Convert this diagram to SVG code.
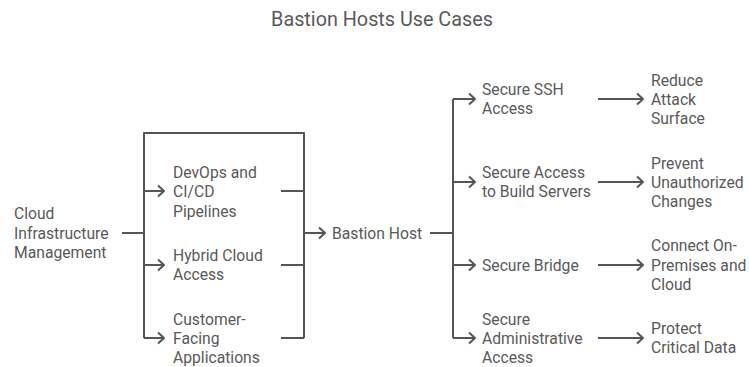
<svg xmlns="http://www.w3.org/2000/svg" width="749" height="367" viewBox="0 0 749 367">
<style>
text{font-family:Roboto,"Liberation Sans",sans-serif;fill:#595959;font-size:15.7px}
.title{font-size:19.8px;text-anchor:middle}
.ln{fill:none;stroke:#555;stroke-width:2;stroke-linejoin:round}
.ar{fill:none;stroke:#555;stroke-width:2;stroke-linejoin:round;marker-end:url(#ah)}
</style>
<defs>
<marker id="ah" markerUnits="userSpaceOnUse" markerWidth="12" markerHeight="14" refX="8" refY="7" orient="auto">
<path d="M2,1.5 L8,7 L2,12.5" fill="none" stroke="#555" stroke-width="2" stroke-linejoin="round"/>
</marker>
</defs>
<rect width="749" height="367" fill="#fff"/>
<text class="title" x="382" y="26">Bastion Hosts Use Cases</text>
<g id="connectors">
<path class="ln" d="M122,233 H144"/>
<path class="ln" d="M144,338 V133 H304 V338"/>
<path class="ar" d="M144,191 H164"/>
<path class="ar" d="M144,265 H164"/>
<path class="ar" d="M144,338 H164"/>
<path class="ln" d="M281,191 H304"/>
<path class="ln" d="M281,265 H304"/>
<path class="ln" d="M281,338 H304"/>
<path class="ar" d="M304,233 H325"/>
<path class="ln" d="M430,233 H453"/>
<path class="ln" d="M453,99 V338"/>
<path class="ar" d="M453,99 H475"/>
<path class="ar" d="M453,182 H475"/>
<path class="ar" d="M453,265 H475"/>
<path class="ar" d="M453,338 H475"/>
<path class="ar" d="M598,99 H643"/>
<path class="ar" d="M598,182 H643"/>
<path class="ar" d="M598,265 H643"/>
<path class="ar" d="M598,338 H643"/>
</g>
<g id="cloud"><text x="14" y="219">Cloud</text><text x="14" y="238.5">Infrastructure</text><text x="14" y="258">Management</text></g>
<g id="devops"><text x="173" y="178">DevOps and</text><text x="173" y="197">CI/CD</text><text x="173" y="216.5">Pipelines</text></g>
<g id="hybrid"><text x="173" y="261">Hybrid Cloud</text><text x="173" y="280">Access</text></g>
<g id="customer"><text x="173" y="325">Customer-</text><text x="173" y="344">Facing</text><text x="173" y="363">Applications</text></g>
<g id="bastion"><text x="332" y="238.5">Bastion Host</text></g>
<g id="ssh"><text x="482" y="95">Secure SSH</text><text x="482" y="114">Access</text></g>
<g id="build"><text x="482" y="178">Secure Access</text><text x="482" y="197">to Build Servers</text></g>
<g id="bridge"><text x="482" y="270.5">Secure Bridge</text></g>
<g id="admin"><text x="482" y="325">Secure</text><text x="482" y="344">Administrative</text><text x="482" y="363">Access</text></g>
<g id="reduce"><text x="651" y="86">Reduce</text><text x="651" y="105">Attack</text><text x="651" y="124">Surface</text></g>
<g id="prevent"><text x="651" y="169">Prevent</text><text x="651" y="188">Unauthorized</text><text x="651" y="207">Changes</text></g>
<g id="connect"><text x="651" y="251">Connect On-</text><text x="651" y="270.5">Premises and</text><text x="651" y="290">Cloud</text></g>
<g id="protect"><text x="651" y="334">Protect</text><text x="651" y="353">Critical Data</text></g>
</svg>
